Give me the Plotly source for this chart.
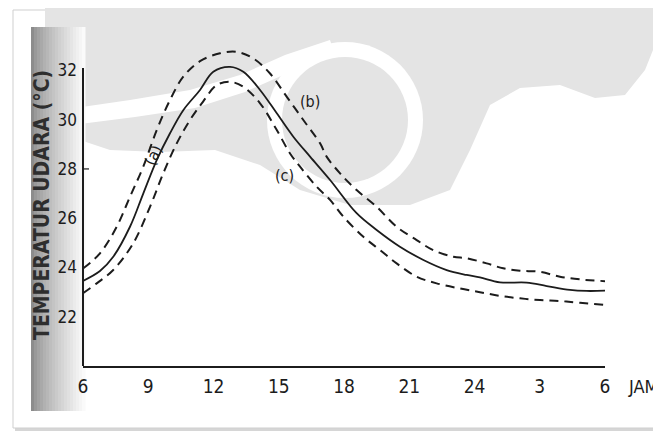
import plotly.graph_objects as go

# ---- data (hours elapsed since 06:00, temperature in °C) ----
hours_a = [0, 0.78, 1.39, 2.16, 2.77, 3.39, 4.0, 4.61, 5.38, 5.99, 6.76, 7.37, 8.14, 8.91, 9.67,
           10.44, 11.36, 12.58, 13.5, 14.57, 15.65, 16.72, 17.64, 18.25, 19.17, 20.4, 21.32, 22.39, 23.16, 24.0]
temp_a = [23.45, 23.85, 24.43, 25.65, 27.0, 28.36, 29.45, 30.39, 31.21, 31.95, 32.15, 31.95, 31.21, 30.26, 29.31,
          28.5, 27.55, 26.2, 25.52, 24.84, 24.3, 23.89, 23.69, 23.59, 23.39, 23.38, 23.24, 23.08, 23.04, 23.05]

hours_b = [0, 0.78, 1.55, 2.16, 2.77, 3.39, 4.0, 4.61, 5.38, 6.3, 7.07, 7.83, 8.6, 9.37, 10.13, 10.9,
           11.2, 11.82, 12.58, 13.5, 14.42, 15.34, 16.1, 17.03, 17.64, 18.56, 19.32, 20.09, 21.01, 21.93, 22.85, 24.0]
temp_b = [23.95, 24.57, 25.65, 26.87, 28.09, 29.58, 30.8, 31.75, 32.38, 32.7, 32.76, 32.49, 31.88, 30.93, 29.99, 29.04,
          28.5, 27.82, 27.14, 26.46, 25.65, 25.11, 24.7, 24.43, 24.37, 24.16, 23.96, 23.86, 23.82, 23.62, 23.51, 23.44]

hours_c = [0, 0.63, 1.39, 2.31, 3.08, 3.69, 4.31, 4.92, 5.53, 6.15, 6.76, 7.37, 8.14, 8.91, 9.52, 9.98,
           10.74, 11.36, 11.97, 12.89, 13.66, 14.42, 15.34, 16.26, 17.33, 18.25, 19.17, 20.09, 21.01, 21.93, 22.85, 24.0]
temp_c = [22.95, 23.35, 23.89, 24.98, 26.46, 27.82, 29.04, 29.99, 30.75, 31.41, 31.54, 31.34, 30.67, 29.58, 28.63, 28.09,
          27.28, 26.74, 26.06, 25.24, 24.7, 24.16, 23.62, 23.35, 23.14, 22.99, 22.84, 22.74, 22.67, 22.63, 22.56, 22.47]

x_tick_vals = [0, 3, 6, 9, 12, 15, 18, 21, 24]
x_tick_text = ["6", "9", "12", "15", "18", "21", "24", "3", "6"]
y_tick_vals = [22, 24, 26, 28, 30, 32]
y_tick_text = ["22", "24", "26", "28", "30", "32"]

curve_labels = ["(a)", "(b)", "(c)"]
label_pos_x = [3.22, 10.44, 9.28]
label_pos_y = [28.56, 30.73, 27.75]
label_angle = [-66, 0, 0]
label_size = [16, 16, 16]

INK = "#1c1c1c"
FONT = "DejaVu Sans Condensed, DejaVu Sans, sans-serif"

# the page body adds an 8px offset; the figure is sized to fill the rest of the window
OFF = 8
W, H = 653, 424
L, R, T, B = 75, 56, 34, 66
PW, PH = W - L - R, H - T - B


def px(s):
    return (s - OFF - L) / PW


def py(s):
    return (H - B - (s - OFF)) / PH


def path(points):
    return "M " + " L ".join(f"{px(x):.5f},{py(y):.5f}" for x, y in points) + " Z"


def circle(cx, cy, r, color):
    return dict(type="circle", xref="paper", yref="paper", layer="below", line=dict(width=0), fillcolor=color,
                x0=px(cx - r), x1=px(cx + r), y0=py(cy + r), y1=py(cy - r))


fig = go.Figure()

fig.add_trace(go.Scatter(x=hours_b, y=temp_b, mode="lines", line=dict(color=INK, width=2, dash="9px,6px", shape="spline"),
                         name="(b)", hoverinfo="skip"))
fig.add_trace(go.Scatter(x=hours_a, y=temp_a, mode="lines", line=dict(color=INK, width=1.8, shape="spline"),
                         name="(a)", hoverinfo="skip"))
fig.add_trace(go.Scatter(x=hours_c, y=temp_c, mode="lines", line=dict(color=INK, width=2, dash="9px,6px", shape="spline"),
                         name="(c)", hoverinfo="skip"))

shapes = []
# page frame with soft shadow
shapes.append(dict(type="rect", xref="paper", yref="paper", x0=px(15), x1=px(700), y0=py(431), y1=py(12),
                   line=dict(width=0), fillcolor="#d6d6d6", layer="below"))
shapes.append(dict(type="rect", xref="paper", yref="paper", x0=px(13), x1=px(700), y0=py(428), y1=py(10),
                   line=dict(width=1, color="#cfcfcf"), fillcolor="white", layer="below"))
# watermark (light grey logo shapes behind the drawing)
wm = "#e4e4e4"
shapes.append(dict(type="path", xref="paper", yref="paper", layer="below", line=dict(width=0), fillcolor=wm,
                   path=path([(45, 0), (661, 0), (661, 30), (645, 70), (625, 95), (595, 98), (560, 85), (520, 88),
                              (490, 105), (470, 150), (450, 190), (410, 205), (350, 205), (300, 190), (260, 165),
                              (215, 150), (160, 152), (110, 150), (80, 140), (55, 120), (45, 80)])))
shapes.append(dict(type="path", xref="paper", yref="paper", layer="below", line=dict(width=0), fillcolor="white",
                   path=path([(75, 108), (130, 100), (190, 90), (240, 75), (285, 55), (330, 40),
                              (335, 55), (290, 72), (245, 92), (195, 108), (135, 117), (80, 124)])))
shapes.append(circle(345, 120, 78, "white"))
shapes.append(circle(345, 120, 63, wm))
# scan shading on the left edge
n = 18
for i in range(n):
    f = i / (n - 1)
    g = int(140 + (250 - 140) * f ** 0.75)
    shapes.append(dict(type="rect", xref="paper", yref="paper", x0=px(31 + i * 3), x1=px(31 + (i + 1) * 3 + 0.5),
                       y0=py(411), y1=py(27), line=dict(width=0), fillcolor=f"rgb({g},{g},{g})", layer="below"))
# y axis line (drawn only up to 32)
shapes.append(dict(type="line", xref="paper", yref="y", x0=0, x1=0, y0=19.99, y1=32.1,
                   line=dict(color=INK, width=2)))
# small tick at 28
shapes.append(dict(type="line", xref="paper", yref="y", x0=px(83), x1=px(89), y0=28, y1=28,
                   line=dict(color=INK, width=1.2)))

annotations = []
for t, xx, yy, ang, sz in zip(curve_labels, label_pos_x, label_pos_y, label_angle, label_size):
    annotations.append(dict(x=xx, y=yy, xref="x", yref="y", text=t, showarrow=False, textangle=ang,
                            xanchor="center", yanchor="middle",
                            font=dict(family=FONT, size=sz, color=INK)))
annotations.append(dict(x=px(42), y=py(205), xref="paper", yref="paper", text="<b>TEMPERATUR UDARA (°C)</b>",
                        xanchor="center", yanchor="middle",
                        showarrow=False, textangle=-90, font=dict(family=FONT, size=21, color="#2e2e2e")))
annotations.append(dict(x=px(626), y=py(386), xref="paper", yref="paper", text="JAM", xanchor="left",
                        yanchor="middle", showarrow=False, font=dict(family=FONT, size=18, color=INK)))

fig.update_layout(
    width=W, height=H,
    margin=dict(l=L, r=R, t=T, b=B),
    paper_bgcolor="white", plot_bgcolor="rgba(0,0,0,0)",
    showlegend=False,
    shapes=shapes, annotations=annotations,
    xaxis=dict(range=[0, 24], tickmode="array", tickvals=x_tick_vals, ticktext=x_tick_text,
               showgrid=False, zeroline=False, showline=True, linecolor=INK, linewidth=2,
               ticks="", ticklabelstandoff=2, tickfont=dict(family=FONT, size=19, color=INK)),
    yaxis=dict(range=[19.99, 33.16], tickmode="array", tickvals=y_tick_vals, ticktext=y_tick_text,
               showgrid=False, zeroline=False, showline=False,
               ticks="", ticklabelstandoff=5, tickfont=dict(family=FONT, size=17, color=INK)),
)

fig.write_html("out.html")
